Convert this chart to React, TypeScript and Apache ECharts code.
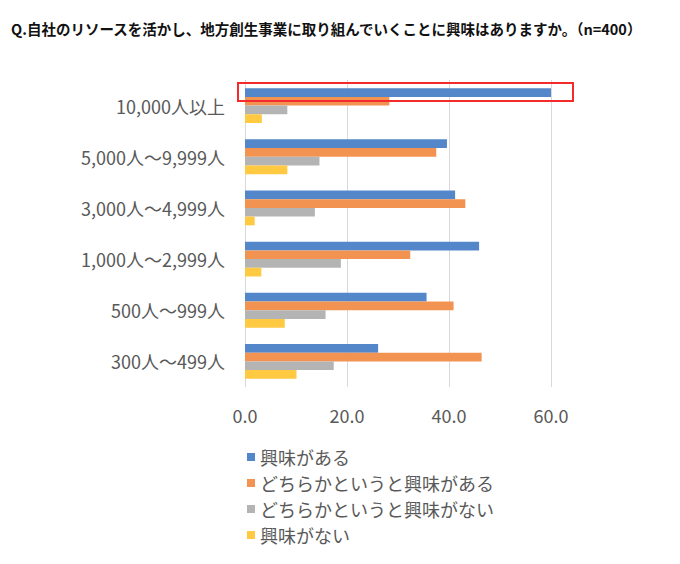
import React, { useEffect, useRef } from "react";
import * as echarts from "echarts";

const categories = [
  "10,000人以上",
  "5,000人～9,999人",
  "3,000人～4,999人",
  "1,000人～2,999人",
  "500人～999人",
  "300人～499人",
];
const seriesNames = [
  "興味がある",
  "どちらかというと興味がある",
  "どちらかというと興味がない",
  "興味がない",
];
const interested = [60.0, 39.6, 41.2, 45.9, 35.6, 26.1];
const somewhatInterested = [28.3, 37.5, 43.2, 32.4, 40.9, 46.4];
const somewhatNotInterested = [8.3, 14.6, 13.7, 18.8, 15.8, 17.4];
const notInterested = [3.3, 8.3, 1.9, 3.2, 7.8, 10.1];
const colors = ["#5387C9", "#F39352", "#B4B4B4", "#FFC942"];
const title = "Q.自社のリソースを活かし、地方創生事業に取り組んでいくことに興味はありますか。（n=400）";

const FONT = "'Noto Sans CJK JP', 'Noto Sans', sans-serif";

export default function App() {
  const ref = useRef<HTMLDivElement>(null);
  useEffect(() => {
    if (!ref.current) return;
    const chart = echarts.init(ref.current, undefined, { renderer: "svg" });
    const values = [interested, somewhatInterested, somewhatNotInterested, notInterested];
    chart.setOption({
      animation: false,
      textStyle: { fontFamily: FONT },
      title: {
        text: title,
        left: 6,
        top: 16,
        textStyle: { fontSize: 14.5, fontWeight: "bold", color: "#111", fontFamily: FONT },
      },
      grid: { left: 245, right: 129, top: 80, bottom: 177, containLabel: false },
      legend: {
        orient: "vertical",
        left: 242,
        top: 443,
        itemWidth: 8,
        itemHeight: 8,
        itemGap: 8,
        icon: "rect",
        data: seriesNames,
        textStyle: { fontSize: 18, color: "#595959", fontFamily: FONT },
      },
      xAxis: {
        type: "value",
        min: 0,
        max: 60,
        interval: 20,
        axisLine: { show: false },
        axisTick: { show: false },
        splitLine: { lineStyle: { color: "#D9D9D9", width: 1 } },
        axisLabel: {
          formatter: (v: number) => v.toFixed(1),
          fontSize: 18,
          color: "#595959",
          margin: 19,
          fontFamily: FONT,
        },
      },
      yAxis: {
        type: "category",
        inverse: true,
        data: categories,
        axisLine: { show: false },
        axisTick: { show: false },
        axisLabel: { fontSize: 18, color: "#595959", margin: 20, fontFamily: FONT },
      },
      series: seriesNames.map((name, i) => ({
        name,
        type: "bar",
        data: values[i],
        barGap: "0%",
        barCategoryGap: "32%",
        itemStyle: { color: colors[i] },
      })),
      graphic: [
        {
          type: "rect",
          shape: { x: 238, y: 83, width: 335, height: 18 },
          style: { fill: "none", stroke: "#F52A2A", lineWidth: 2 },
          z: 100,
        },
      ],
    });
    return () => chart.dispose();
  }, []);
  return <div ref={ref} style={{ width: 680, height: 564, margin: -8 }} />;
}
